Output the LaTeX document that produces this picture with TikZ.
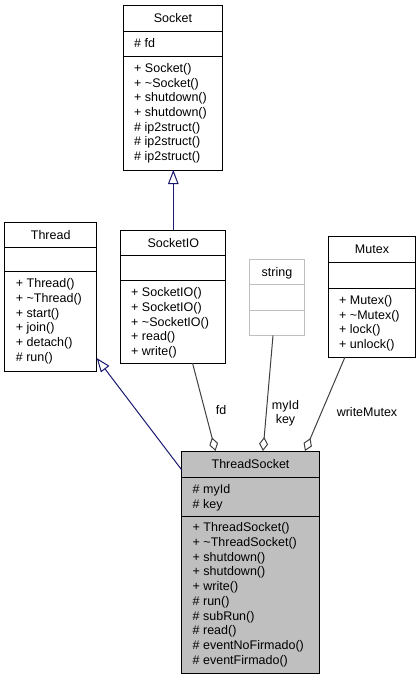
\documentclass[tikz,border=0pt]{standalone}
\usepackage{fontspec}
\setmainfont{Liberation Sans}
\usetikzlibrary{arrows.meta}

\definecolor{inheritblue}{HTML}{191970}
\definecolor{usegrey}{HTML}{404040}
\definecolor{focusfill}{HTML}{BFBFBF}
\definecolor{extborder}{HTML}{BFBFBF}

\newcommand\umlfont{\fontsize{12.5}{14.7}\selectfont}
% \classmembers{name prefix}{x of text}{first baseline}{lines}
\newcommand\classmembers[4]{%
  \foreach \m [count=\i from 0] in {#4}
    \node[member] (#1-\i) at (#2, #3+14.7*\i) {\m};}

\begin{document}
\begin{tikzpicture}[x=1pt, y=-1pt,
  classbox/.style={draw=black, line width=1pt, fill=white, inner sep=0pt,
    outer sep=0pt, anchor=north west},
  extbox/.style={classbox, draw=extborder},
  focusbox/.style={classbox, fill=focusfill},
  divider/.style={draw=black, line width=1pt},
  extdivider/.style={draw=extborder, line width=1pt},
  title/.style={anchor=base, inner sep=0pt, font=\umlfont},
  member/.style={anchor=base west, inner sep=0pt, font=\umlfont},
  lbl/.style={anchor=base, inner sep=0pt, font=\umlfont},
  inherit/.style={draw=inheritblue, line width=1pt,
    -{Triangle[open, length=14pt, width=10.5pt, line width=1pt]}},
  compose/.style={draw=usegrey, line width=1pt,
    -{Diamond[open, length=14pt, width=9pt, line width=1pt]}}]
\useasboundingbox (0,0) rectangle (420,680);

% Socket
\node[classbox, minimum width=99pt, minimum height=165pt] (socket) at (123.5,5) {};
\draw[divider] (socket.west |- 0,31) -- (socket.east |- 0,31);
\draw[divider] (socket.west |- 0,56.7) -- (socket.east |- 0,56.7);
\node[title] (socket-t) at (socket.north |- 0,22) {Socket};
\classmembers{socket-a}{134}{47}{\# fd}
\classmembers{socket-m}{134}{72.3}{+ Socket(), + \textasciitilde{}Socket(),
  + shutdown(), + shutdown(), \# ip2struct(), \# ip2struct(), \# ip2struct()}

% Thread
\node[classbox, minimum width=92pt, minimum height=149pt] (thread) at (4.7,222.3) {};
\draw[divider] (thread.west |- 0,247.3) -- (thread.east |- 0,247.3);
\draw[divider] (thread.west |- 0,271.7) -- (thread.east |- 0,271.7);
\node[title] (thread-t) at (thread.north |- 0,239.3) {Thread};
\classmembers{thread-m}{15.7}{287.8}{+ Thread(), + \textasciitilde{}Thread(),
  + start(), + join(), + detach(), \# run()}

% SocketIO
\node[classbox, minimum width=105pt, minimum height=133pt] (socketio) at (120.8,230) {};
\draw[divider] (socketio.west |- 0,255) -- (socketio.east |- 0,255);
\draw[divider] (socketio.west |- 0,280.5) -- (socketio.east |- 0,280.5);
\node[title] (socketio-t) at (socketio.north |- 0,247) {SocketIO};
\classmembers{socketio-m}{131}{296.8}{+ SocketIO(), + SocketIO(),
  + \textasciitilde{}SocketIO(), + read(), + write()}

% string
\node[extbox, minimum width=55pt, minimum height=76pt] (string) at (249.5,259.5) {};
\draw[extdivider] (string.west |- 0,284) -- (string.east |- 0,284);
\draw[extdivider] (string.west |- 0,310) -- (string.east |- 0,310);
\node[title] (string-t) at (string.north |- 0,276) {string};

% Mutex
\node[classbox, minimum width=87pt, minimum height=121pt] (mutex) at (328.5,236) {};
\draw[divider] (mutex.west |- 0,262.5) -- (mutex.east |- 0,262.5);
\draw[divider] (mutex.west |- 0,288.5) -- (mutex.east |- 0,288.5);
\node[title] (mutex-t) at (mutex.north |- 0,253.5) {Mutex};
\classmembers{mutex-m}{339}{304.5}{+ Mutex(), + \textasciitilde{}Mutex(),
  + lock(), + unlock()}

% ThreadSocket
\node[focusbox, minimum width=137.5pt, minimum height=222.3pt] (tsock) at (181.8,451) {};
\draw[divider] (tsock.west |- 0,477.3) -- (tsock.east |- 0,477.3);
\draw[divider] (tsock.west |- 0,516) -- (tsock.east |- 0,516);
\node[title] (tsock-t) at (tsock.north |- 0,468.5) {ThreadSocket};
\classmembers{tsock-a}{192.5}{493.3}{\# myId, \# key}
\classmembers{tsock-m}{192.5}{531.8}{+ ThreadSocket(),
  + \textasciitilde{}ThreadSocket(), + shutdown(), + shutdown(), + write(),
  \# run(), \# subRun(), \# read(), \# eventNoFirmado(), \# eventFirmado()}

% inheritance
\draw[inherit] (socketio.north) -- (socketio.north |- socket.south);
\draw[inherit] (tsock.west |- 0,470) -- (thread.east |- 0,358);

% composition
\draw[compose] (socketio.south -| 192.5,0) -- (tsock.north -| 215.5,0);
\draw[compose] (string.south -| 273,0) -- (tsock.north -| 263,0);
\draw[compose] (mutex.south -| 345,0) -- (tsock.north -| 305,0);

% role labels
\node[lbl] (lbl-fd) at (221,414) {fd};
\node[lbl, align=center, anchor=north] (lbl-key) at (285.5,400) {myId\\key};
\node[lbl] (lbl-mutex) at (367,416.5) {writeMutex};
\end{tikzpicture}
\end{document}
